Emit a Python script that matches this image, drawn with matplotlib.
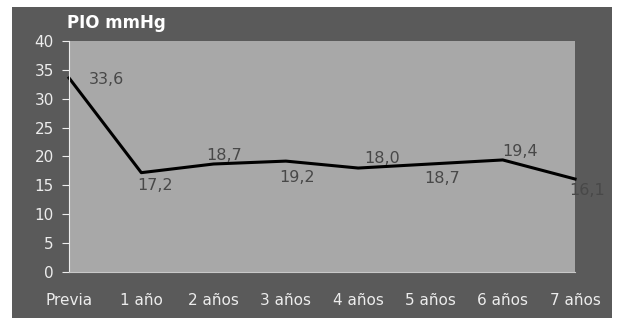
import matplotlib
matplotlib.use('Agg')
import matplotlib.pyplot as plt

# datos
categorias = ['Previa', '1 año', '2 años', '3 años', '4 años', '5 años', '6 años', '7 años']
pio = [33.6, 17.2, 18.7, 19.2, 18.0, 18.7, 19.4, 16.1]
etiquetas = ['33,6', '17,2', '18,7', '19,2', '18,0', '18,7', '19,4', '16,1']

# desplazamiento de cada etiqueta (px) respecto al punto
desplaz = [(37, -2), (14, -13), (11, 8), (11, -16), (24, 10), (12, -15), (17, 8), (12, -11)]

FONDO = '#5a5a5a'
AREA = '#a8a8a8'
BLANCO = '#ececec'

fig = plt.figure(figsize=(6.19, 3.25), dpi=100, facecolor='white')

# marco gris oscuro
bg = fig.add_axes([0.019, 0.021, 0.969, 0.957], zorder=-1)
bg.set_facecolor(FONDO)
bg.set_xticks([]), bg.set_yticks([])
for s in bg.spines.values():
    s.set_visible(False)

ax = fig.add_axes([0.1115, 0.163, 0.8175, 0.711])
ax.set_facecolor(AREA)
x = list(range(len(categorias)))
ax.plot(x, pio, color='black', linewidth=2.2, solid_joinstyle='round', clip_on=False)

for xi, yi, txt, (dx, dy) in zip(x, pio, etiquetas, desplaz):
    ax.annotate(txt, (xi, yi), xytext=(dx, dy), textcoords='offset pixels',
                ha='center', va='center', fontsize=11.5, color='#484848')

ax.set_xlim(0, 7)
ax.set_ylim(0, 40)
ax.set_yticks(range(0, 41, 5))
ax.set_xticks(x)
ax.set_xticklabels(categorias)
ax.tick_params(axis='y', colors=BLANCO, labelsize=11, length=5, direction='out', pad=6)
ax.tick_params(axis='x', colors=BLANCO, labelsize=11, length=0, pad=15)
for k in ['top', 'right']:
    ax.spines[k].set_visible(False)
ax.spines['left'].set_color(BLANCO)
ax.spines['bottom'].set_color('#c8c8c8')

fig.text(0.108, 0.915, 'PIO mmHg', color='white', fontsize=12, fontweight='bold')

fig.savefig('out.png', dpi=100, facecolor='white')
